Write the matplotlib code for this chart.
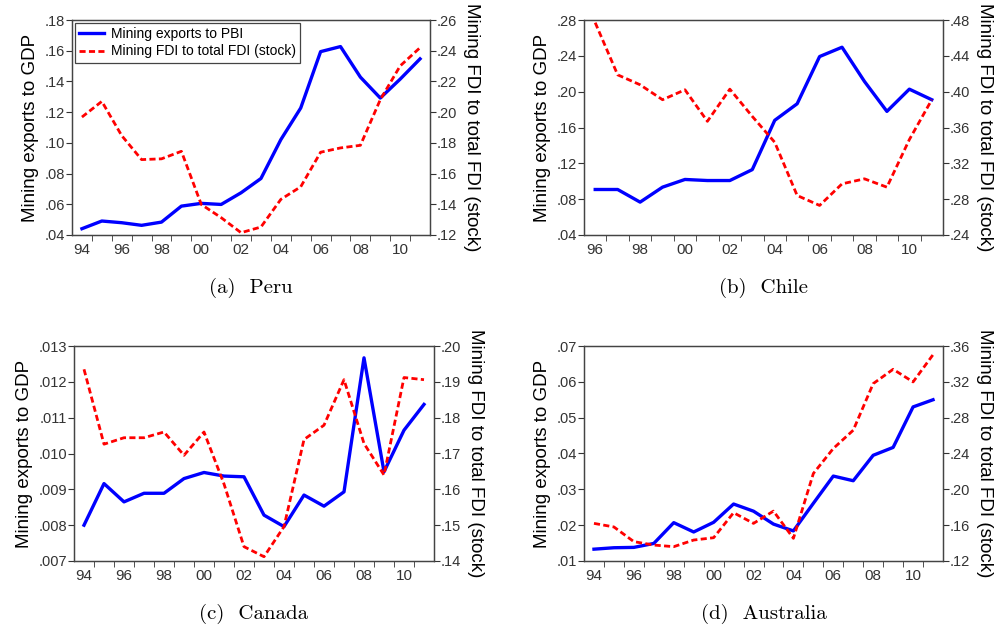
import numpy as np
import matplotlib.pyplot as plt

# years
years_94 = np.arange(1994, 2012)
years_96 = np.arange(1996, 2012)

# Peru
peru_exp = [.0441, .0491, .0480, .0463, .0484, .0588, .0606, .0599, .0675, .0768,
            .1021, .1227, .1594, .1627, .1428, .1292, .1415, .1547]
peru_fdi = [.1968, .2070, .1847, .1691, .1696, .1745, .1399, .1313, .1215, .1252,
            .1432, .1514, .1739, .1767, .1784, .2081, .2301, .2420]

# Chile
chile_exp = [.0908, .0908, .0767, .0934, .1020, .1008, .1008, .1130, .1680, .1865,
             .2392, .2496, .2114, .1780, .2028, .1910]
chile_fdi = [.4770, .4188, .4077, .3910, .4021, .3669, .4028, .3724, .3435, .2841,
             .2730, .2971, .3027, .2934, .3465, .3910]

# Canada
canada_exp = [.00800, .00916, .00865, .00889, .00889, .00930, .00947, .00937, .00935, .00828,
              .00796, .00884, .00853, .00893, .01267, .00949, .01065, .01137]
canada_fdi = [.1935, .1726, .1744, .1744, .1760, .1695, .1760, .1615, .1440, .1412,
              .1496, .1739, .1779, .1906, .1728, .1640, .1912, .1906]

# Australia
austr_exp = [.0133, .0137, .0138, .0149, .0207, .0181, .0208, .0259, .0239, .0203,
             .0184, .0261, .0337, .0324, .0395, .0417, .0530, .0550]
austr_fdi = [.1620, .1580, .1416, .1378, .1360, .1434, .1460, .1739, .1620, .1757,
             .1453, .2177, .2456, .2660, .3180, .3340, .3199, .3503]

panels = [
    ('(a)  Peru', years_94, peru_exp, peru_fdi, (.04, .18, .02), (.12, .26, .02), '{:.2f}'),
    ('(b)  Chile', years_96, chile_exp, chile_fdi, (.04, .28, .04), (.24, .48, .04), '{:.2f}'),
    ('(c)  Canada', years_94, canada_exp, canada_fdi, (.007, .013, .001), (.14, .20, .01), '{:.3f}'),
    ('(d)  Australia', years_94, austr_exp, austr_fdi, (.01, .07, .01), (.12, .36, .04), '{:.2f}'),
]

# axes positions in pixels: left, top, right, bottom
boxes = [(72, 20, 430, 235), (584, 20, 943, 235), (74, 346, 434, 561), (584, 346, 943, 561)]

W, H = 1005, 625
fig = plt.figure(figsize=(W / 100, H / 100), dpi=100)
plt.rcParams['font.family'] = ['Liberation Sans', 'DejaVu Sans']

for (caption, yrs, exp, fdi, lrng, rrng, fmt), (l, t, r, b) in zip(panels, boxes):
    ax = fig.add_axes([l / W, 1 - b / H, (r - l) / W, (b - t) / H])
    ax2 = ax.twinx()
    l1, = ax.plot(yrs, exp, color='#0000ff', lw=2.4)
    l2, = ax2.plot(yrs, fdi, color='#ff0000', lw=2.0, ls=(0, (2.2, 1.2)))

    ax.set_xlim(yrs[0] - 0.5, 2011.5)
    ax.set_xticks(yrs[::2])
    ax.set_xticklabels(['{:02d}'.format(y % 100) for y in yrs[::2]])
    ax.set_xticks(np.arange(yrs[0] + 0.5, 2011.5, 1), minor=True)
    ax.tick_params(axis='x', which='major', length=0, pad=6)
    ax.tick_params(axis='x', which='minor', length=4, direction='out')

    lt = np.arange(lrng[0], lrng[1] + lrng[2] / 2, lrng[2])
    rt = np.arange(rrng[0], rrng[1] + rrng[2] / 2, rrng[2])
    ax.set_ylim(lrng[0], lrng[1])
    ax2.set_ylim(rrng[0], rrng[1])
    ax.set_yticks(lt)
    ax.set_yticklabels([fmt.format(v)[1:] for v in lt])
    ax2.set_yticks(rt)
    ax2.set_yticklabels(['{:.2f}'.format(v)[1:] for v in rt])

    for a in (ax, ax2):
        a.tick_params(axis='y', length=4, direction='out', labelsize=10.5, colors='#333333', pad=1)
        for s in a.spines.values():
            s.set_color('#444444')
            s.set_linewidth(0.9)
    ax.tick_params(axis='x', which='both', labelsize=11, colors='#333333')

    ax.set_ylabel('Mining exports to GDP', fontsize=13.5, labelpad=4)
    ax2.set_ylabel('Mining FDI to total FDI (stock)', fontsize=13.5, rotation=270, labelpad=16)

    fig.text((l + r) / 2 / W, 1 - (b + 53) / H, caption, family='cmr10',
             fontsize=15, ha='center', va='center')

    if caption.startswith('(a)'):
        leg = ax.legend([l1, l2], ['Mining exports to PBI', 'Mining FDI to total FDI (stock)'],
                        loc='upper left', fontsize=10, fancybox=False, framealpha=1,
                        borderaxespad=0.2, handlelength=1.8, borderpad=0.3,
                        labelspacing=0.25, handletextpad=0.5)
        leg.get_frame().set_edgecolor('#444444')
        leg.get_frame().set_linewidth(0.9)

fig.savefig('out.png', dpi=100)
